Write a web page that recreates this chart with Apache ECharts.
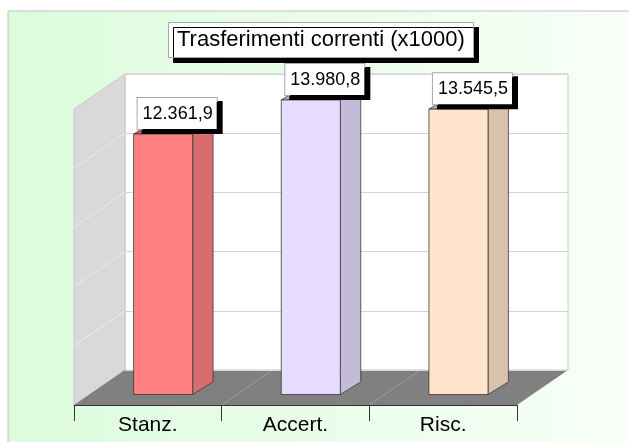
<!DOCTYPE html>
<html>
<head>
<meta charset="utf-8">
<style>
  html, body { margin: 0; padding: 0; background: #fff; }
  #chart { width: 629px; height: 442px; }
</style>
<script src="https://cdn.jsdelivr.net/npm/echarts@6/dist/echarts.min.js"></script>
</head>
<body>
<div id="chart"></div>
<script>
// dati del grafico
var categories = ['Stanz.', 'Accert.', 'Risc.']
var values = [12361.9, 13980.8, 13545.5]
var valueLabels = ['12.361,9', '13.980,8', '13.545,5']
var barColors = ['#ff8080', '#e6dcff', '#ffe4cc']
var yMax = 15000
var yStep = 3000

// layout: parete di fondo + spostamento prospettico
var back = { left: 125, top: 74, width: 443, height: 296 }
var depth = { x: 51, y: 35 }
var wallBottom = back.top + back.height
var front = { left: back.left - depth.x, bottom: wallBottom + depth.y }
var barPlaneTop = 89
var FONT = '"Liberation Sans", Arial, sans-serif'

function shade (hex, k) {
  var n = parseInt(hex.slice(1), 16)
  var r = Math.round(((n >> 16) & 255) * k)
  var g = Math.round(((n >> 8) & 255) * k)
  var b = Math.round((n & 255) * k)
  return 'rgb(' + r + ',' + g + ',' + b + ')'
}

// pareti e pavimento
var graphics = []
graphics.push({
  type: 'rect', z: -10,
  shape: { x: 8, y: 11, width: 700, height: 500 },
  style: {
    fill: { type: 'linear', x: 0, y: 0, x2: 1, y2: 0, colorStops: [{ offset: 0, color: '#dcfcdc' }, { offset: 1, color: '#fbfffb' }] },
    stroke: '#c0c0c0', lineWidth: 1
  }
})
graphics.push({
  type: 'rect', z: -6,
  shape: { x: back.left, y: back.top, width: back.width, height: back.height },
  style: { fill: '#fff', stroke: '#c8c8c8', lineWidth: 1 }
})
graphics.push({
  type: 'polygon', z: -6,
  shape: { points: [[front.left, back.top + depth.y], [back.left, back.top], [back.left, wallBottom], [front.left, front.bottom]] },
  style: { fill: '#d9d9d9', stroke: '#c8c8c8', lineWidth: 1 }
})
for (var v = yStep; v < yMax; v += yStep) {
  var yy = wallBottom - v / yMax * back.height
  graphics.push({
    type: 'line', z: -5,
    shape: { x1: front.left, y1: yy + depth.y, x2: back.left, y2: yy },
    style: { stroke: '#ebebeb', lineWidth: 1 }
  })
}
graphics.push({
  type: 'polygon', z: -6,
  shape: { points: [[front.left, front.bottom], [back.left, wallBottom], [back.left + back.width, wallBottom], [front.left + back.width, front.bottom]] },
  style: { fill: '#808080' }
})
for (var c = 1; c < categories.length; c++) {
  var xx = front.left + c * back.width / categories.length
  graphics.push({
    type: 'line', z: -5,
    shape: { x1: xx, y1: front.bottom, x2: xx + depth.x, y2: wallBottom },
    style: { stroke: '#9c9c9c', lineWidth: 1 }
  })
}

// geometria barre (frazioni della profondità)
var barW = 0.4
var d0 = 0.3
var d1 = 0.7

function barBox (api) {
  var i = api.value(0)
  var base = api.coord([i, 0])
  var top = api.coord([i, api.value(1)])
  var band = api.size([1, 0])[0]
  var w = band * barW
  var xl = base[0] + depth.x * d0 - w / 2
  return {
    i: i, xl: xl, xr: xl + w,
    yb: base[1] - depth.y * d0,
    yt: top[1] - depth.y * d0,
    dx: depth.x * (d1 - d0),
    dy: depth.y * (d1 - d0) * 0.9
  }
}

var option = {
  animation: false,
  backgroundColor: '#fff',
  title: {
    text: 'Trasferimenti correnti (x1000)',
    left: 168,
    top: 22,
    padding: [7, 9, 7, 9],
    backgroundColor: '#fff',
    borderColor: '#a8a8a8',
    borderWidth: 1,
    shadowColor: '#000',
    shadowBlur: 0,
    shadowOffsetX: 5,
    shadowOffsetY: 5,
    textStyle: { fontSize: 22, fontWeight: 'normal', color: '#000', fontFamily: FONT }
  },
  graphic: graphics,
  grid: [
    { left: back.left, top: back.top, width: back.width, height: back.height, outerBoundsMode: 'none' },
    { left: front.left, top: barPlaneTop, width: back.width, height: front.bottom - barPlaneTop, outerBoundsMode: 'none' }
  ],
  xAxis: [
    { gridIndex: 0, type: 'category', data: categories, show: false },
    {
      gridIndex: 1, type: 'category', data: categories,
      axisLine: { lineStyle: { color: '#333', width: 1 } },
      axisTick: { show: true, length: 16, lineStyle: { color: '#333' } },
      axisLabel: { fontSize: 21, color: '#000', fontFamily: FONT, margin: 10 },
      splitLine: { show: false }
    }
  ],
  yAxis: [
    {
      gridIndex: 0, type: 'value', min: 0, max: yMax, interval: yStep,
      axisLabel: { show: false }, axisLine: { show: false }, axisTick: { show: false },
      splitLine: { lineStyle: { color: '#d4d4d4' } }
    },
    { gridIndex: 1, type: 'value', min: 0, max: yMax, show: false }
  ],
  series: [
    {
      type: 'custom',
      xAxisIndex: 1,
      yAxisIndex: 1,
      z: 2,
      data: values.map(function (v, i) { return [i, v] }),
      renderItem: function (params, api) {
        var b = barBox(api)
        var col = barColors[b.i]
        var line = { stroke: '#3a3a3a', lineWidth: 0.8 }
        return {
          type: 'group',
          children: [
            {
              type: 'polygon',
              shape: { points: [[b.xr, b.yb], [b.xr + b.dx, b.yb - b.dy], [b.xr + b.dx, b.yt - b.dy], [b.xr, b.yt]] },
              style: Object.assign({ fill: shade(col, 0.85) }, line)
            },
            {
              type: 'polygon',
              shape: { points: [[b.xl, b.yt], [b.xl + b.dx, b.yt - b.dy], [b.xr + b.dx, b.yt - b.dy], [b.xr, b.yt]] },
              style: Object.assign({ fill: shade(col, 0.76) }, line)
            },
            {
              type: 'rect',
              shape: { x: b.xl, y: b.yt, width: b.xr - b.xl, height: b.yb - b.yt },
              style: Object.assign({ fill: col }, line)
            }
          ]
        }
      }
    },
    {
      type: 'custom',
      xAxisIndex: 1,
      yAxisIndex: 1,
      z: 5,
      data: values.map(function (v, i) { return [i, v] }),
      renderItem: function (params, api) {
        var b = barBox(api)
        return {
          type: 'text',
          x: (b.xl + b.xr) / 2 + 14,
          y: b.yt - 5,
          style: {
            text: valueLabels[b.i],
            font: '18px ' + FONT,
            fill: '#000',
            align: 'center',
            verticalAlign: 'bottom',
            backgroundColor: '#fff',
            borderColor: '#a8a8a8',
            borderWidth: 1,
            padding: [7, 4, 6, 5],
            shadowColor: '#000',
            shadowBlur: 0,
            shadowOffsetX: 5,
            shadowOffsetY: 4
          }
        }
      }
    }
  ]
}

var chart = echarts.init(document.getElementById('chart'))
chart.setOption(option)
</script>
</body>
</html>
